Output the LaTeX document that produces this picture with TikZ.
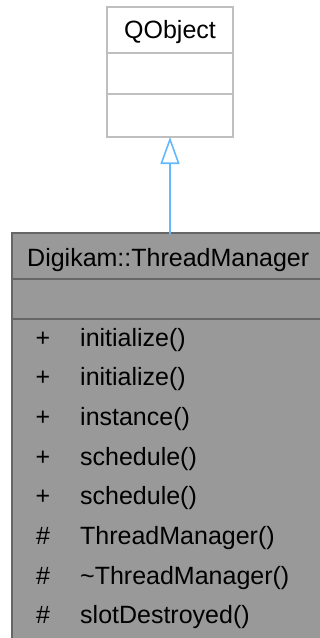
\documentclass[tikz,border=0pt]{standalone}
\usepackage{fontspec}
\setmainfont{Liberation Sans}
\usetikzlibrary{arrows.meta}
\definecolor{qline}{HTML}{BFBFBF}
\definecolor{classfill}{HTML}{999999}
\definecolor{classline}{HTML}{666666}
\definecolor{inherit}{HTML}{63B8FF}
\tikzset{
  member/.style={anchor=base west, inner sep=0pt, font=\fontsize{25}{28}\selectfont},
  title/.style={inner sep=0pt, font=\fontsize{25}{28}\selectfont},
}
\begin{document}
\begin{tikzpicture}[x=1pt,y=-1pt,line cap=rect]
  \useasboundingbox (0,0) rectangle (320,638);
  % base class
  \draw[qline, line width=1.6pt, fill=white] (107,7) rectangle (233,137);
  \draw[qline, line width=1.6pt] (107,53) -- (233,53);
  \draw[qline, line width=1.6pt] (107,94) -- (233,94);
  \node[title, anchor=center] (qobject) at (170,32) {QObject};
  \coordinate (qbottom) at (170,137);
  % derived class
  \draw[classline, line width=1.6pt, fill=classfill] (12,233) rectangle (325,645);
  \draw[classline, line width=1.6pt] (12,279) -- (325,279);
  \draw[classline, line width=1.6pt] (12,319) -- (325,319);
  \node[member] (manager) at (27,266) {Digikam::ThreadManager};
  \coordinate (mtop) at (170,233);
  \foreach \vis/\name [count=\i from 0] in {+/initialize(), +/initialize(), +/instance(),
      +/schedule(), +/schedule(), \#/ThreadManager(), \#/\textasciitilde ThreadManager(),
      \#/slotDestroyed()} {
    \node[member, anchor=base] (vis\i) at (43,346+39.7*\i) {\vis};
    \node[member] (fn\i) at (80,346+39.7*\i) {\name};
  }
  % inheritance
  \draw[inherit, line width=1.6pt, -{Triangle[open, length=27pt, width=19pt, line width=1.6pt]}]
    (mtop) -- (qbottom);
\end{tikzpicture}
\end{document}
